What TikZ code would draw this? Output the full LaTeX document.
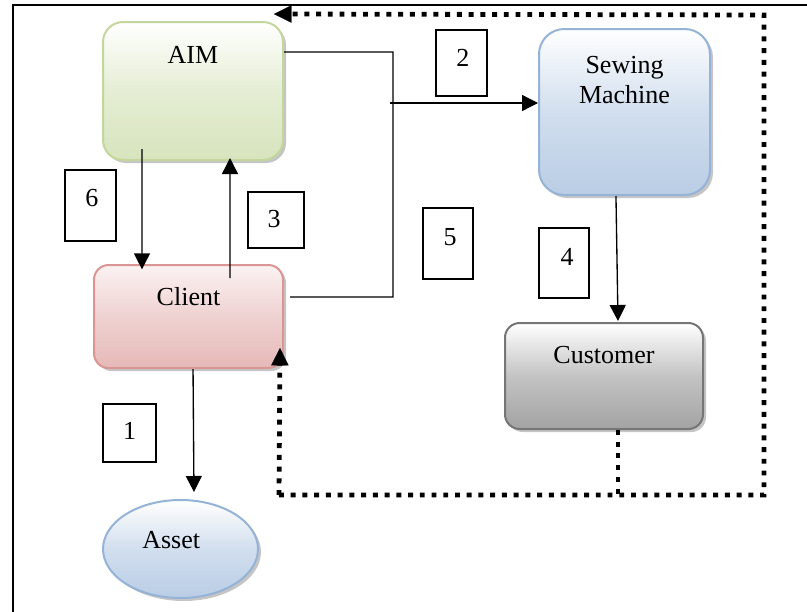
\documentclass[tikz,border=0pt]{standalone}
\usepackage{fontspec}
\setmainfont{Liberation Serif}
\usetikzlibrary{arrows.meta,shadows,calc,shapes.geometric}
\definecolor{aimB}{HTML}{C3D69B}
\definecolor{aimF}{HTML}{D7E4BD}
\definecolor{bluB}{HTML}{95B3D7}
\definecolor{bluF}{HTML}{B9CDE5}
\definecolor{redB}{HTML}{D99694}
\definecolor{redF}{HTML}{E6B9B8}
\definecolor{redT}{HTML}{FBF2F2}
\definecolor{gryB}{HTML}{767676}
\definecolor{gryF}{HTML}{A3A3A3}
\tikzset{
  shapebox/.style={draw, line width=1.5pt, shading=axis,
    drop shadow={shadow xshift=2.25pt, shadow yshift=-2.25pt, fill=black!45}},
  numbox/.style={draw, line width=0.9pt, inner sep=0pt},
  conn/.style={line width=1pt},
  arr/.style={conn, -{Triangle[length=12pt,width=12pt]}},
  dotline/.style={line width=3.6pt, dash pattern=on 3.7pt off 5.1pt},
  dotarr/.style={dotline, -{Triangle[length=13pt,width=13pt,line width=0.1pt]}},
  frameline/.style={line width=1.2pt},
}
\begin{document}
\begin{tikzpicture}[x=0.75pt,y=-0.75pt,font=\fontsize{19.5}{22.5}\selectfont]
\useasboundingbox (0,0) rectangle (807,611);
\clip (0,0) rectangle (807,611);
% outer frame
\draw[frameline] (812,5) -- (13,5) -- (13,616);

% main nodes
\node[shapebox, draw=aimB, top color=white, bottom color=aimF, middle color=aimF!65,
  rounded corners=15pt, minimum width=135pt, minimum height=103.5pt,
  label={[yshift=27pt]center:AIM}] (aim) at (193,91) {};
\node[shapebox, draw=bluB, top color=white, bottom color=bluF, middle color=bluF!65,
  rounded corners=19pt, minimum width=128.25pt, minimum height=124.5pt,
  label={[yshift=24pt,align=center]center:Sewing\\Machine}] (sew) at (624.5,112) {};
\node[shapebox, draw=redB, top color=redT, bottom color=redF, middle color=redF!65,
  rounded corners=11pt, minimum width=141.75pt, minimum height=77.25pt,
  label={[yshift=14.6pt]center:Client}] (client) at (188.5,316.5) {};
\node[shapebox, draw=gryB, top color=white, bottom color=gryF, middle color=gryF!65,
  rounded corners=11pt, minimum width=148.5pt, minimum height=79.5pt,
  label={[yshift=15.75pt]center:Customer}] (cust) at (604,376) {};
\node[shapebox, ellipse, draw=bluB, top color=white, bottom color=bluF, middle color=bluF!65,
  minimum width=116.25pt, minimum height=73.5pt,
  label={[yshift=6.75pt,xshift=-7pt]center:Asset}] (asset) at (180.5,549) {};

% number boxes
\node[numbox, minimum width=38.25pt, minimum height=53.25pt,
  label={[yshift=5.6pt,xshift=1pt]center:6}] (n6) at (90.5,205.5) {};
\node[numbox, minimum width=42pt, minimum height=42pt,
  label={[yshift=0.75pt,xshift=-1.5pt]center:3}] (n3) at (276,220) {};
\node[numbox, minimum width=38.25pt, minimum height=49.5pt,
  label={[yshift=3.75pt,xshift=1pt]center:2}] (n2) at (461.5,63) {};
\node[numbox, minimum width=37.5pt, minimum height=53.25pt,
  label={[yshift=4.9pt,xshift=1.5pt]center:5}] (n5) at (448,243.5) {};
\node[numbox, minimum width=37.5pt, minimum height=52.5pt,
  label={[yshift=4.5pt,xshift=2.25pt]center:4}] (n4) at (564,263) {};
\node[numbox, minimum width=39.75pt, minimum height=43.5pt,
  label={[yshift=1.5pt]center:1}] (n1) at (129.5,433) {};

% junction coordinates
\coordinate (jb) at (393,297);
\coordinate (jm) at (390,103);
\coordinate (lb) at (279,495);
\coordinate (rb) at (764,495);
\coordinate (rt) at (764,15);

% solid connectors
\draw[arr] ([xshift=-38.25pt,yshift=9pt]aim.south) -- ([xshift=-34.9pt,yshift=-4pt]client.north);
\draw[arr] ([xshift=31.1pt,yshift=-10.5pt]client.north) -- ([xshift=27.75pt,yshift=2.25pt]aim.south);
\draw[conn] ([yshift=29.25pt]aim.east) -| (jb) -- ([xshift=4.5pt,yshift=14.6pt]client.east);
\draw[arr] (jm) -- (jm -| sew.west);
\draw[arr] ([xshift=-6.4pt]sew.south) -- ([xshift=10.5pt,yshift=0.75pt]cust.north);
\draw[arr] ([xshift=3.4pt]client.south) -- ([xshift=10.1pt,yshift=5.25pt]asset.north);

% dotted feedback
\draw[dotline] ([xshift=10.5pt]cust.south) -- ([xshift=10.5pt]cust.south |- rb);
\draw[dotarr] (lb) -- ([xshift=-3pt,yshift=15.75pt]client.south east);
\draw[dotarr] (lb) -- (rb) -- (rt) -- ([xshift=-7.5pt,yshift=5.25pt]aim.north east);
\end{tikzpicture}
\end{document}
